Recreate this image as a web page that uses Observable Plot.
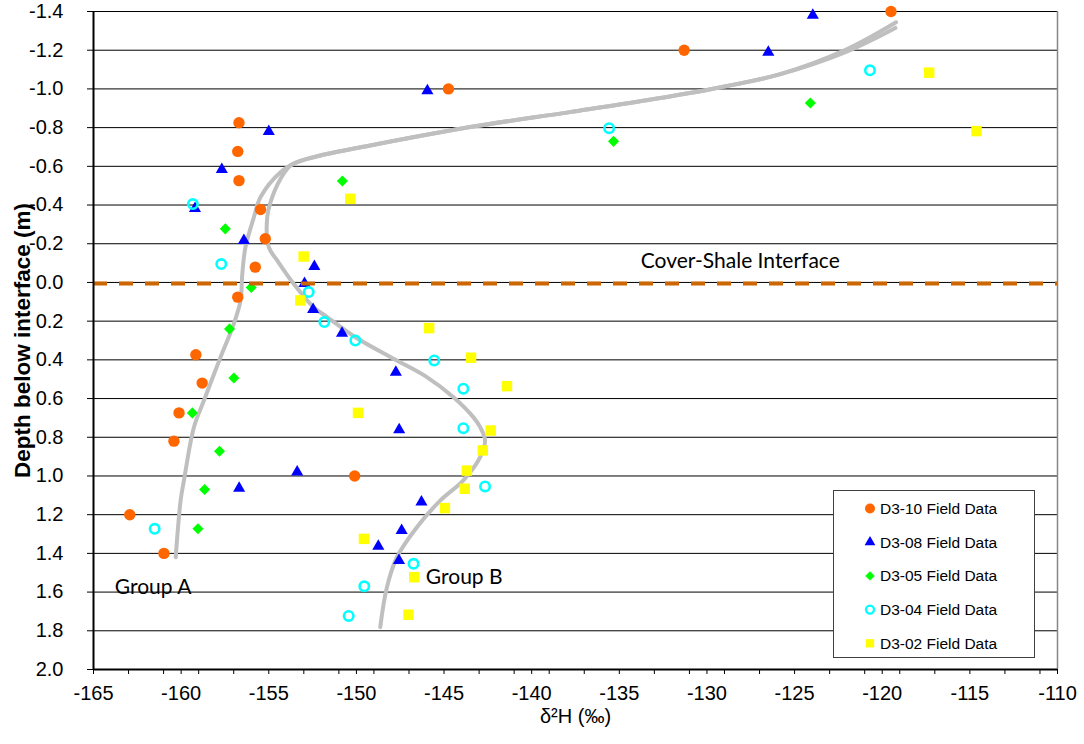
<!DOCTYPE html>
<html>
<head>
<meta charset="utf-8">
<script src="https://cdn.jsdelivr.net/npm/d3@7"></script>
<script src="https://cdn.jsdelivr.net/npm/@observablehq/plot@0.6"></script>
<style>
  body { margin: 0; background: #fff; }
  #chart { width: 1084px; height: 744px; }
</style>
</head>
<body>
<div id="chart"></div>
<script>
// ---------- data ----------
const seriesNames = ["D3-10 Field Data", "D3-08 Field Data", "D3-05 Field Data", "D3-04 Field Data", "D3-02 Field Data"];

const d310_dH    = [-119.5, -131.3, -144.75, -156.7, -156.77, -156.7, -155.47, -155.2, -155.77, -156.77, -159.16, -158.8, -160.12, -160.41, -150.1, -162.93, -160.98];
const d310_depth = [-1.40, -1.20, -1.00, -0.825, -0.677, -0.526, -0.377, -0.226, -0.079, 0.076, 0.374, 0.520, 0.674, 0.82, 1.0, 1.2, 1.40];

const d308_dH    = [-123.96, -126.5, -145.95, -155.0, -157.68, -159.21, -156.42, -152.4, -152.96, -152.47, -150.82, -147.75, -147.56, -153.38, -156.69, -146.29, -147.42, -148.75, -147.57];
const d308_depth = [-1.38, -1.19, -0.99, -0.78, -0.584, -0.382, -0.217, -0.083, 0.005, 0.14, 0.262, 0.464, 0.761, 0.98, 1.063, 1.135, 1.282, 1.363, 1.437];

const d305_dH    = [-124.1, -135.33, -150.8, -157.48, -156.0, -157.24, -156.99, -159.36, -157.81, -158.66, -159.04];
const d305_depth = [-0.927, -0.729, -0.524, -0.277, 0.026, 0.24, 0.494, 0.674, 0.872, 1.07, 1.273];

const d304_dH    = [-120.7, -135.58, -159.33, -157.71, -152.72, -151.83, -150.06, -145.56, -143.9, -143.9, -142.66, -161.51, -146.74, -149.55, -150.44];
const d304_depth = [-1.096, -0.797, -0.405, -0.095, 0.05, 0.205, 0.3, 0.403, 0.549, 0.753, 1.054, 1.273, 1.454, 1.57, 1.723];

const d302_dH    = [-117.32, -114.62, -150.35, -153.01, -153.2, -145.85, -143.46, -141.41, -149.91, -142.34, -142.79, -143.7, -143.82, -144.95, -149.57, -146.7, -147.03];
const d302_depth = [-1.084, -0.782, -0.432, -0.134, 0.093, 0.236, 0.389, 0.536, 0.674, 0.765, 0.868, 0.972, 1.066, 1.166, 1.325, 1.523, 1.717];

// trend curves (hand drawn in original)
const groupA_dH    = [-119.21, -122.06, -125.86, -129.66, -133.45, -137.82, -143.51, -149.21, -152.06, -153.38, -154.33, -155.47, -155.85, -156.33, -156.51, -156.61, -156.99, -157.75, -158.70, -159.27, -159.84, -160.03, -160.31];
const groupA_depth = [-1.344, -1.203, -1.075, -1.001, -0.941, -0.880, -0.803, -0.708, -0.656, -0.622, -0.570, -0.441, -0.337, -0.182, -0.045, 0.093, 0.213, 0.386, 0.610, 0.748, 1.023, 1.127, 1.42];

const groupB_dH    = [-119.25, -122.1, -125.86, -129.66, -133.45, -137.82, -143.51, -149.21, -152.06, -153.38, -153.76, -154.33, -154.90, -155.09, -155.0, -154.52, -153.58, -152.44, -151.67, -150.06, -147.69, -145.98, -144.46, -143.33, -142.94, -142.66, -142.94, -143.90, -145.22, -146.55, -147.69, -148.26, -148.64];
const groupB_depth = [-1.315, -1.19, -1.075, -1.001, -0.941, -0.880, -0.803, -0.708, -0.656, -0.622, -0.605, -0.536, -0.415, -0.337, -0.182, -0.114, 0.007, 0.128, 0.179, 0.283, 0.403, 0.489, 0.593, 0.696, 0.748, 0.817, 0.903, 1.023, 1.127, 1.265, 1.42, 1.575, 1.781];

// axis ticks
const xTickLabels = [-165, -160, -155, -150, -145, -140, -135, -130, -125, -120, -115, -110];
const xTickMarks  = [-165, -163, -161, -160, -159, -157, -155, -153, -151, -150, -149, -147, -145, -143, -141, -140, -139, -137, -135, -133, -131, -130, -129, -127, -125, -123, -121, -120, -119, -117, -115, -113, -111, -110];
const yTicks = [-1.4, -1.2, -1.0, -0.8, -0.6, -0.4, -0.2, 0, 0.2, 0.4, 0.6, 0.8, 1.0, 1.2, 1.4, 1.6, 1.8, 2.0];

// annotations
const annoText  = ["Cover-Shale Interface", "Group A", "Group B"];
const annoX     = [-128.1, -161.6, -143.85];
const annoDepth = [-0.11, 1.574, 1.524];

// ---------- build ----------
const pts = (xs, ys) => xs.map((x, i) => ({x, y: ys[i]}));
const s10 = pts(d310_dH, d310_depth);
const s08 = pts(d308_dH, d308_depth);
const s05 = pts(d305_dH, d305_depth);
const s04 = pts(d304_dH, d304_depth);
const s02 = pts(d302_dH, d302_depth);
const cA = pts(groupA_dH, groupA_depth);
const cB = pts(groupB_dH, groupB_depth);
const annos = annoText.map((t, i) => ({t, x: annoX[i], y: annoDepth[i]}));

const tickFont = "'Liberation Sans Narrow', 'Arial Narrow', 'Liberation Sans', Arial, sans-serif";
const bodyFont = "'Liberation Sans', Arial, sans-serif";
const calFont = "Lato, 'Open Sans', sans-serif";

const COL = {c10: "#ff6600", c08: "#0000ff", c05: "#00ff00", c04: "#00ffff", c02: "#ffff00"};

const plot = Plot.plot({
  width: 1084,
  height: 744,
  marginLeft: 93,
  marginRight: 27,
  marginTop: 11,
  marginBottom: 75,
  style: {fontFamily: tickFont, fontSize: "20px", color: "#000", background: "#fff"},
  x: {domain: [-165, -110]},
  y: {domain: [-1.4, 2.0], reverse: true},
  marks: [
    Plot.ruleY(yTicks, {stroke: "#000", strokeWidth: 1}),
    Plot.ruleX([-110], {stroke: "#868686", strokeWidth: 1.5}),
    Plot.line(cA, {x: "x", y: "y", stroke: "#bfbfbf", strokeWidth: 4, curve: "catmull-rom"}),
    Plot.line(cB, {x: "x", y: "y", stroke: "#bfbfbf", strokeWidth: 4, curve: "catmull-rom"}),
    Plot.dot(s10, {x: "x", y: "y", symbol: "circle", r: 5.7, fill: COL.c10}),
    Plot.dot(s08, {x: "x", y: "y", symbol: "triangle", r: 4.5, fill: COL.c08}),
    Plot.dot(s05, {x: "x", y: "y", symbol: "diamond2", r: 5.0, fill: COL.c05}),
    Plot.dot(s04, {x: "x", y: "y", symbol: "circle", r: 4.7, fill: "none", stroke: COL.c04, strokeWidth: 2.6}),
    Plot.dot(s02, {x: "x", y: "y", symbol: "square", r: 5.9, fill: COL.c02}),
    Plot.ruleY([0], {stroke: "#cc6600", strokeWidth: 4, strokeDasharray: "14,12", dy: 1}),
    Plot.ruleX([-165], {stroke: "#000", strokeWidth: 2}),
    Plot.ruleY([2.0], {stroke: "#000", strokeWidth: 2}),
    Plot.axisX({ticks: xTickMarks, tickSize: 5, tickFormat: () => "", label: null, stroke: "#000"}),
    Plot.axisX({ticks: xTickLabels, tickSize: 0, tickPadding: 16, tickFormat: d => String(d), label: null, fontSize: 20, fontFamily: tickFont}),
    Plot.axisY({ticks: yTicks, tickSize: 6, tickPadding: 24, tickFormat: d => d.toFixed(1), label: null, fontSize: 20, fontFamily: tickFont}),
    Plot.text(annos, {x: "x", y: "y", text: "t", fontSize: 21, fontFamily: calFont, fill: "#000"}),
    Plot.text(["Depth below interface (m)"], {frameAnchor: "left", textAnchor: "middle", dx: -71, rotate: -90, fontSize: 22.5, fontWeight: "bold", fontFamily: bodyFont, fill: "#000"}),
    Plot.text(["δ²H (‰)"], {frameAnchor: "bottom", textAnchor: "middle", dy: 53, fontSize: 20, fontFamily: tickFont, fill: "#000"})
  ]
});

// ---------- legend (overlay inside plot area) ----------
const svg = d3.select(plot);
const lg = svg.append("g").attr("transform", "translate(833.5,490.5)").attr("text-anchor", "start");
lg.append("rect").attr("width", 201).attr("height", 167)
  .style("fill", "#ffffff").style("stroke", "#404040").style("stroke-width", "1px");
const legendSyms = [
  {sym: d3.symbolCircle, size: Math.PI * 25, fill: COL.c10, stroke: "none"},
  {sym: d3.symbolTriangle, size: Math.PI * 16, fill: COL.c08, stroke: "none"},
  {sym: d3.symbolDiamond2, size: Math.PI * 18, fill: COL.c05, stroke: "none"},
  {sym: d3.symbolCircle, size: Math.PI * 16, fill: "none", stroke: COL.c04},
  {sym: d3.symbolSquare, size: Math.PI * 22, fill: COL.c02, stroke: "none"}
];
seriesNames.forEach((name, i) => {
  const cy = 18 + i * 33.7;
  const s = legendSyms[i];
  lg.append("path")
    .attr("transform", `translate(36.5,${cy})`)
    .attr("d", d3.symbol(s.sym, s.size)())
    .style("fill", s.fill)
    .style("stroke", s.stroke)
    .style("stroke-width", "2.4px");
  lg.append("text")
    .attr("x", 46.5).attr("y", cy).attr("dy", "0.36em")
    .attr("text-anchor", "start")
    .style("font-family", bodyFont).style("font-size", "15.5px")
    .style("fill", "#000")
    .text(name);
});

document.getElementById("chart").appendChild(plot);
</script>
</body>
</html>
